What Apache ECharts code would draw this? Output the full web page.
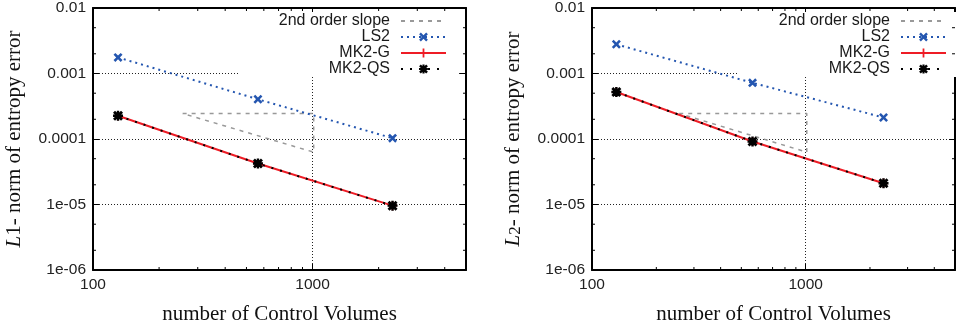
<!DOCTYPE html>
<html><head><meta charset="utf-8">
<script src="https://cdn.jsdelivr.net/npm/echarts@6/dist/echarts.min.js"></script>
<style>html,body{margin:0;padding:0;background:#fff}#c{width:958px;height:333px}</style>
</head><body><div id="c"></div>
<script>
// ---- data ----
const nCV = [130, 564, 2314];
const l1LS2 = [1.76e-3, 4.04e-4, 1.03e-4];
const l1MK2G = [2.26e-4, 4.22e-5, 9.6e-6];
const l1MK2QS = [2.26e-4, 4.22e-5, 9.6e-6];
const l2LS2 = [2.79e-3, 7.2e-4, 2.13e-4];
const l2MK2G = [5.21e-4, 9.17e-5, 2.11e-5];
const l2MK2QS = [5.21e-4, 9.17e-5, 2.11e-5];
const slopeX = [256, 1012, 1012, 256];
const slopeY = [2.45e-4, 2.45e-4, 6.3e-5, 2.45e-4];
const seriesNames = ['2nd order slope', 'LS2', 'MK2-G', 'MK2-QS'];
const xTickLabels = {2: '100', 3: '1000'};
const yTickLabels = {'-6': '1e-06', '-5': '1e-05', '-4': '0.0001', '-3': '0.001', '-2': '0.01'};
const xMinorTicks = [200, 300, 400, 500, 600, 700, 800, 900, 2000, 3000, 4000];
const yMinorTicks = [2e-6, 5e-6, 2e-5, 5e-5, 2e-4, 5e-4, 2e-3, 5e-3];
const xTitle = 'number of Control Volumes';
const yTitles = ['{i|L}1- norm of entropy error', '{i|L}{s|2}- norm of entropy error'];

// ---- style ----
const X_MIN = 100, X_MAX = 5000, Y_MIN = 1e-6, Y_MAX = 1e-2;
const SANS = 'Liberation Sans', SERIF = 'Liberation Serif';
const symX = 'path://M0,2 L2,0 L5,3 L8,0 L10,2 L7,5 L10,8 L8,10 L5,7 L2,10 L0,8 L3,5 Z';
const symPlus = 'path://M4,0 L6,0 L6,4 L10,4 L10,6 L6,6 L6,10 L4,10 L4,6 L0,6 L0,4 L4,4 Z';
const symStar = 'path://M0,2 L2,0 L5,3 L8,0 L10,2 L7,5 L10,8 L8,10 L5,7 L2,10 L0,8 L3,5 Z M3.8,0 L6.2,0 L6.2,3.8 L10,3.8 L10,6.2 L6.2,6.2 L6.2,10 L3.8,10 L3.8,6.2 L0,6.2 L0,3.8 L3.8,3.8 Z';

function fmtLog(map) {
  return function (v) {
    const l = Math.log10(v), e = Math.round(l);
    if (Math.abs(l - e) > 1e-6) return '';
    return map[e] || '';
  };
}

const grids = [], xAxes = [], yAxes = [], series = [], legends = [], graphics = [];
const charts = [
  {left: 93, width: 373, ls2: l1LS2, g: l1MK2G, qs: l1MK2QS, yName: yTitles[0], legendRight: 511, boxLeft: 238},
  {left: 592, width: 374, ls2: l2LS2, g: l2MK2G, qs: l2MK2QS, yName: yTitles[1], legendRight: 11, boxLeft: 737}
];
charts.forEach((c, i) => {
  grids.push({left: c.left, top: 5, width: c.width, height: 265, containLabel: false});
  const axisLine = {show: true, onZero: false, lineStyle: {color: '#000', width: 2}};
  const tick = {show: true, inside: true, length: 6, lineStyle: {color: '#000', width: 1}};
  const grid = {color: '#222', width: 1, type: [1, 2]};
  xAxes.push({
    type: 'log', logBase: 10, gridIndex: i, position: 'bottom', min: X_MIN, max: X_MAX,
    axisLine, axisTick: tick,
    axisLabel: {formatter: fmtLog(xTickLabels), margin: 7, fontFamily: SANS, fontSize: 15.5, color: '#222'},
    splitLine: {show: true, lineStyle: grid},
    name: xTitle, nameLocation: 'middle', nameGap: 34,
    nameTextStyle: {fontFamily: SERIF, fontSize: 21, color: '#111'}
  });
  xAxes.push({
    type: 'log', logBase: 10, gridIndex: i, position: 'top', min: X_MIN, max: X_MAX,
    axisLine, axisTick: tick, axisLabel: {show: false}, splitLine: {show: false}
  });
  yAxes.push({
    type: 'log', logBase: 10, gridIndex: i, position: 'left', min: Y_MIN, max: Y_MAX,
    axisLine, axisTick: tick,
    axisLabel: {formatter: fmtLog(yTickLabels), margin: 7, fontFamily: SANS, fontSize: 15.5, color: '#222'},
    splitLine: {show: true, lineStyle: grid},
    name: c.yName, nameLocation: 'middle', nameGap: 68, nameRotate: 90,
    nameTextStyle: {fontFamily: SERIF, fontSize: 21, color: '#111',
      rich: {i: {fontFamily: SERIF, fontSize: 21, fontStyle: 'italic', color: '#111'},
             s: {fontFamily: SERIF, fontSize: 17, color: '#111', verticalAlign: 'bottom'}}}
  });
  yAxes.push({
    type: 'log', logBase: 10, gridIndex: i, position: 'right', min: Y_MIN, max: Y_MAX,
    axisLine, axisTick: tick, axisLabel: {show: false}, splitLine: {show: false}
  });
  const xi = i * 2, yi = i * 2;
  series.push({
    name: seriesNames[0], type: 'line', xAxisIndex: xi, yAxisIndex: yi, symbol: 'none',
    data: slopeX.map((x, k) => [x, slopeY[k]]),
    lineStyle: {color: '#999', width: 1.5, type: [4, 5]}, itemStyle: {color: '#999'},
    z: 2, animation: false, silent: true
  });
  series.push({
    name: seriesNames[1], type: 'line', xAxisIndex: xi, yAxisIndex: yi,
    symbol: symX, symbolSize: 9,
    data: nCV.map((x, k) => [x, c.ls2[k]]),
    lineStyle: {color: '#2456b0', width: 2, type: [2, 4]}, itemStyle: {color: '#2456b0'},
    z: 3, animation: false, silent: true
  });
  series.push({
    name: seriesNames[2], type: 'line', xAxisIndex: xi, yAxisIndex: yi,
    symbol: symPlus, symbolSize: 9,
    data: nCV.map((x, k) => [x, c.g[k]]),
    lineStyle: {color: '#ee1c25', width: 2, type: 'solid'}, itemStyle: {color: '#ee1c25'},
    z: 4, animation: false, silent: true
  });
  series.push({
    name: seriesNames[3], type: 'line', xAxisIndex: xi, yAxisIndex: yi,
    symbol: symStar, symbolSize: 10,
    data: nCV.map((x, k) => [x, c.qs[k]]),
    lineStyle: {color: '#000', width: 2, type: [2, 7]}, itemStyle: {color: '#000'},
    z: 5, animation: false, silent: true
  });
  // minor ticks (x: 2..9 per decade, y: 2 and 5 per decade), drawn with the axis scales
  series.push({
    type: 'custom', xAxisIndex: xi, yAxisIndex: yi, silent: true, animation: false, z: 6,
    data: xMinorTicks.map(v => [v, Y_MIN]),
    renderItem: function (params, api) {
      const p = api.coord([api.value(0), api.value(1)]);
      const cs = params.coordSys;
      const st = {stroke: '#000', lineWidth: 1};
      return {type: 'group', children: [
        {type: 'line', shape: {x1: p[0], y1: cs.y + cs.height, x2: p[0], y2: cs.y + cs.height - 3}, style: st},
        {type: 'line', shape: {x1: p[0], y1: cs.y, x2: p[0], y2: cs.y + 3}, style: st}
      ]};
    }
  });
  series.push({
    type: 'custom', xAxisIndex: xi, yAxisIndex: yi, silent: true, animation: false, z: 6,
    data: yMinorTicks.map(v => [X_MIN, v]),
    renderItem: function (params, api) {
      const p = api.coord([api.value(0), api.value(1)]);
      const cs = params.coordSys;
      const st = {stroke: '#000', lineWidth: 1};
      return {type: 'group', children: [
        {type: 'line', shape: {x1: cs.x, y1: p[1], x2: cs.x + 3, y2: p[1]}, style: st},
        {type: 'line', shape: {x1: cs.x + cs.width, y1: p[1], x2: cs.x + cs.width - 3, y2: p[1]}, style: st}
      ]};
    }
  });
  legends.push({
    orient: 'vertical', align: 'right', right: c.legendRight, top: 13, padding: 0,
    itemWidth: 45, itemHeight: 11, itemGap: 0, selectedMode: false,
    data: [{name: seriesNames[0], itemStyle: {opacity: 0}}, seriesNames[1], seriesNames[2], seriesNames[3]],
    textStyle: {fontFamily: SANS, fontSize: 16, color: '#1a1a1a', lineHeight: 16, padding: [0, 6, 0, 0]}
  });
  graphics.push({
    type: 'rect', left: c.boxLeft, top: 12, z: 1,
    shape: {width: 219, height: 65}, style: {fill: '#fff'}, silent: true
  });
});

const chart = echarts.init(document.getElementById('c'), null, {renderer: 'canvas'});
chart.setOption({
  animation: false,
  backgroundColor: '#fff',
  grid: grids, xAxis: xAxes, yAxis: yAxes, series, legend: legends,
  graphic: {elements: graphics}
});
</script></body></html>
